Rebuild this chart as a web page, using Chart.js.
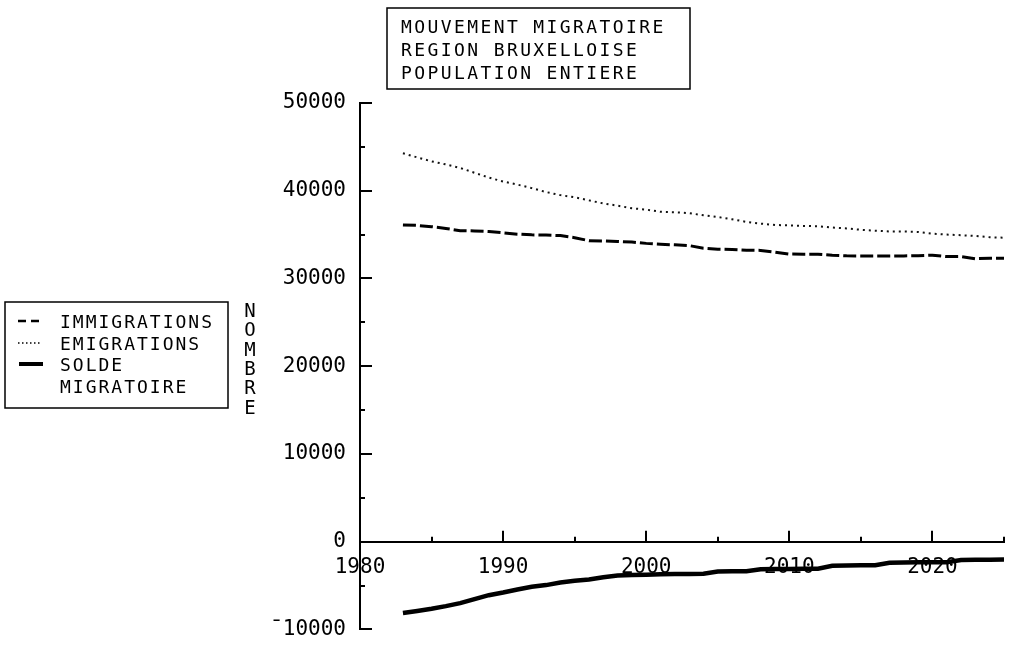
<!DOCTYPE html>
<html>
<head>
<meta charset="utf-8">
<script src="https://cdn.jsdelivr.net/npm/chart.js@4.4.1/dist/chart.umd.min.js"></script>
<style>
  html, body { margin: 0; padding: 0; background: #fff; }
  canvas { display: block; }
</style>
</head>
<body>
<canvas id="myChart" width="1009" height="648"></canvas>
<script>
// Years (x) and series
const years = [1983, 1984, 1985, 1986, 1987, 1988, 1989, 1990, 1991, 1992,
    1993, 1994, 1995, 1996, 1997, 1998, 1999, 2000, 2001, 2002,
    2003, 2004, 2005, 2006, 2007, 2008, 2009, 2010, 2011, 2012,
    2013, 2014, 2015, 2016, 2017, 2018, 2019, 2020, 2021, 2022,
    2023, 2024, 2025];

const immigrations = [36100, 36050, 35900, 35700, 35450, 35420, 35350, 35200, 35050, 34970,
    34950, 34890, 34650, 34300, 34280, 34220, 34150, 34000, 33900, 33830,
    33750, 33450, 33340, 33300, 33220, 33200, 33000, 32780, 32770, 32770,
    32650, 32580, 32570, 32570, 32570, 32570, 32600, 32650, 32500, 32500,
    32250, 32300, 32300];

const emigrations = [44270, 43800, 43350, 43000, 42600, 42050, 41500, 41050, 40700, 40300,
    39850, 39500, 39250, 38900, 38550, 38300, 38000, 37850, 37600, 37550,
    37450, 37200, 37000, 36750, 36450, 36250, 36100, 36050, 35990, 35950,
    35800, 35700, 35550, 35450, 35350, 35350, 35300, 35100, 35000, 34930,
    34850, 34700, 34650];

const solde = [-8120, -7900, -7650, -7350, -7000, -6550, -6100, -5800, -5450, -5150,
    -4950, -4650, -4450, -4300, -4050, -3850, -3800, -3760, -3720, -3680,
    -3680, -3650, -3400, -3380, -3360, -3150, -3120, -3110, -3100, -3080,
    -2750, -2720, -2700, -2680, -2400, -2380, -2360, -2350, -2340, -2080,
    -2060, -2050, -2040];

const titleLines = ['MOUVEMENT MIGRATOIRE', 'REGION BRUXELLOISE', 'POPULATION ENTIERE'];
const legendLabels = ['IMMIGRATIONS', 'EMIGRATIONS', 'SOLDE', 'MIGRATOIRE'];
const yAxisTitle = 'NOMBRE';

const FONT = '"DejaVu Sans Mono", monospace';

function pairs(values) {
    return values.map((v, i) => ({ x: years[i], y: v }));
}

// Tick marks, title box, legend box and the vertical axis title
const decorations = {
    id: 'decorations',
    afterDraw(chart) {
        const ctx = chart.ctx;
        const xs = chart.scales.x;
        const ys = chart.scales.y;
        const x0 = ys.left + ys.width; // y axis line
        const zero = ys.getPixelForValue(0);

        ctx.save();
        ctx.strokeStyle = '#000';
        ctx.lineWidth = 2;
        ctx.lineCap = 'butt';

        // y ticks, pointing into the plot
        ys.ticks.forEach(t => {
            const py = Math.round(ys.getPixelForValue(t.value));
            const len = t.value % 10000 === 0 ? 12 : 5;
            ctx.beginPath();
            ctx.moveTo(x0, py);
            ctx.lineTo(x0 + len, py);
            ctx.stroke();
        });

        // x ticks, pointing up from the zero line
        xs.ticks.forEach(t => {
            if (t.value === xs.min) return;
            const px = Math.round(xs.getPixelForValue(t.value));
            const len = t.value % 10 === 0 ? 11 : 5;
            ctx.beginPath();
            ctx.moveTo(px, zero);
            ctx.lineTo(px, zero - len);
            ctx.stroke();
        });

        // title box
        ctx.lineWidth = 1.5;
        ctx.strokeRect(387, 8, 303, 81);
        ctx.fillStyle = '#000';
        ctx.font = '18px ' + FONT;
        ctx.letterSpacing = '2.4px';
        ctx.textAlign = 'left';
        ctx.textBaseline = 'alphabetic';
        titleLines.forEach((s, i) => ctx.fillText(s, 401, 33 + i * 23));

        // legend box
        ctx.letterSpacing = '2px';
        ctx.strokeRect(5, 302, 223, 106);
        legendLabels.forEach((s, i) => ctx.fillText(s, 60, 328 + i * 21.7));

        ctx.beginPath();
        ctx.lineWidth = 2.5;
        ctx.setLineDash([8, 5]);
        ctx.moveTo(18, 321);
        ctx.lineTo(42, 321);
        ctx.stroke();

        ctx.beginPath();
        ctx.lineWidth = 1.3;
        ctx.setLineDash([1.5, 2.5]);
        ctx.moveTo(18, 343);
        ctx.lineTo(42, 343);
        ctx.stroke();

        ctx.beginPath();
        ctx.lineWidth = 4;
        ctx.setLineDash([]);
        ctx.moveTo(19, 364);
        ctx.lineTo(43, 364);
        ctx.stroke();

        // NOMBRE, one letter under the other
        ctx.letterSpacing = '0px';
        ctx.textAlign = 'center';
        ctx.font = '19px ' + FONT;
        yAxisTitle.split('').forEach((c, i) => ctx.fillText(c, 250, 317 + i * 19.3));

        ctx.restore();
    }
};

Chart.defaults.font.family = FONT;
Chart.defaults.color = '#000';

const ctx = document.getElementById('myChart').getContext('2d');
new Chart(ctx, {
    type: 'line',
    data: {
        datasets: [{
            label: 'IMMIGRATIONS',
            data: pairs(immigrations),
            borderColor: '#000',
            borderWidth: 3,
            borderDash: [13, 4]
        }, {
            label: 'EMIGRATIONS',
            data: pairs(emigrations),
            borderColor: '#111',
            borderWidth: 2,
            borderDash: [2, 4]
        }, {
            label: 'SOLDE MIGRATOIRE',
            data: pairs(solde),
            borderColor: '#000',
            borderWidth: 4.5
        }]
    },
    options: {
        responsive: false,
        animation: false,
        devicePixelRatio: 1,
        layout: { padding: { left: 0, top: 103, right: -5, bottom: 11 } },
        elements: {
            point: { radius: 0 },
            line: { tension: 0, fill: false }
        },
        plugins: {
            legend: { display: false },
            title: { display: false },
            tooltip: { enabled: false }
        },
        scales: {
            x: {
                type: 'linear',
                position: { y: 0 },
                min: 1980,
                max: 2025,
                grid: { display: false },
                border: { display: true, color: '#000', width: 2 },
                ticks: {
                    stepSize: 5,
                    includeBounds: false,
                    autoSkip: false,
                    maxRotation: 0,
                    padding: 5,
                    font: { size: 21 },
                    callback: v => (v % 10 === 0 ? String(v) : '')
                }
            },
            y: {
                min: -10000,
                max: 50000,
                afterFit: s => { s.width = 360; },
                grid: { display: false },
                border: { display: true, color: '#000', width: 2 },
                ticks: {
                    stepSize: 5000,
                    autoSkip: false,
                    padding: 6,
                    font: { size: 21 },
                    callback: v => (v % 10000 === 0 ? (v < 0 ? '\u00af' + (-v) : String(v)) : '')
                }
            }
        }
    },
    plugins: [decorations]
});
</script>
</body>
</html>
